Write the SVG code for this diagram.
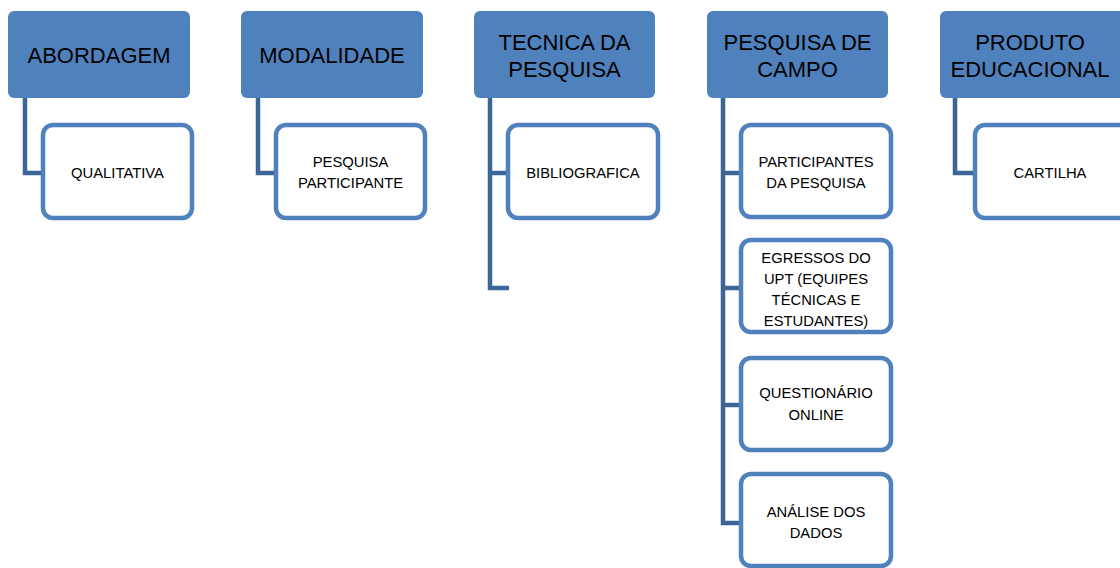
<svg xmlns="http://www.w3.org/2000/svg" width="1120" height="568" viewBox="0 0 1120 568">
<style>
.hd{fill:#4f81bd;}
.ch{fill:#fff;stroke:#4f81bd;stroke-width:4.5;}
.ht{font-family:"Liberation Sans",Arial,sans-serif;font-size:22px;fill:#000;text-anchor:middle;}
.ct{font-family:"Liberation Sans",Arial,sans-serif;font-size:14.8px;fill:#000;text-anchor:middle;}
.cn{fill:none;stroke:#3d6698;stroke-width:4.5;stroke-linejoin:miter;}
</style>
<rect width="1120" height="568" fill="#fff"/>
<g id="connectors">
<path class="cn" d="M25,98 V173 H43"/>
<path class="cn" d="M258,98 V173 H276"/>
<path class="cn" d="M490,98 V288 H509 M490,173 H508"/>
<path class="cn" d="M723,98 V523 H741 M723,173 H741 M723,288 H741 M723,405 H741"/>
<path class="cn" d="M955,98 V173 H975"/>
</g>
<g id="abordagem"><rect class="hd" x="8" y="11" width="182" height="87" rx="6"/><text class="ht" x="99" y="63">ABORDAGEM</text></g>
<g id="qualitativa"><rect class="ch" x="43" y="125" width="149" height="93" rx="10"/><text class="ct" x="117.5" y="178">QUALITATIVA</text></g>
<g id="modalidade"><rect class="hd" x="241" y="11" width="182" height="87" rx="6"/><text class="ht" x="332" y="63">MODALIDADE</text></g>
<g id="pesquisa-participante"><rect class="ch" x="276" y="125" width="149" height="93" rx="10"/><text class="ct" x="350.5" y="167">PESQUISA</text><text class="ct" x="350.5" y="188">PARTICIPANTE</text></g>
<g id="tecnica"><rect class="hd" x="474" y="11" width="181" height="87" rx="6"/><text class="ht" x="564.5" y="50">TECNICA DA</text><text class="ht" x="564.5" y="77">PESQUISA</text></g>
<g id="bibliografica"><rect class="ch" x="508" y="125" width="150" height="93" rx="10"/><text class="ct" x="583" y="178">BIBLIOGRAFICA</text></g>
<g id="pesquisa-campo"><rect class="hd" x="707" y="11" width="181" height="87" rx="6"/><text class="ht" x="797.5" y="50">PESQUISA DE</text><text class="ht" x="797.5" y="77">CAMPO</text></g>
<g id="participantes"><rect class="ch" x="741" y="125" width="150" height="92" rx="10"/><text class="ct" x="816" y="167">PARTICIPANTES</text><text class="ct" x="816" y="188">DA PESQUISA</text></g>
<g id="egressos"><rect class="ch" x="741" y="240" width="150" height="92" rx="10"/><text class="ct" x="816" y="263">EGRESSOS DO</text><text class="ct" x="816" y="284">UPT (EQUIPES</text><text class="ct" x="816" y="305">TÉCNICAS E</text><text class="ct" x="816" y="326">ESTUDANTES)</text></g>
<g id="questionario"><rect class="ch" x="741" y="358" width="150" height="92" rx="10"/><text class="ct" x="816" y="398">QUESTIONÁRIO</text><text class="ct" x="816" y="420">ONLINE</text></g>
<g id="analise"><rect class="ch" x="741" y="474" width="150" height="92" rx="10"/><text class="ct" x="816" y="517">ANÁLISE DOS</text><text class="ct" x="816" y="538">DADOS</text></g>
<g id="produto"><rect class="hd" x="940" y="11" width="186" height="87" rx="6"/><text class="ht" x="1030" y="50">PRODUTO</text><text class="ht" x="1030" y="77">EDUCACIONAL</text></g>
<g id="cartilha"><rect class="ch" x="975" y="125" width="160" height="93" rx="10"/><text class="ct" x="1050" y="178">CARTILHA</text></g>
</svg>
